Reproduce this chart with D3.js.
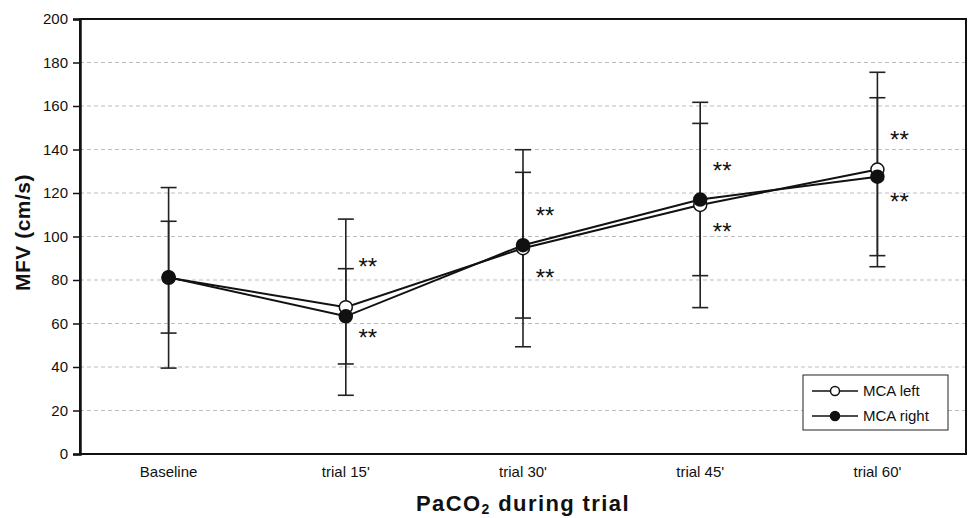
<!DOCTYPE html>
<html>
<head>
<meta charset="utf-8">
<script src="https://cdnjs.cloudflare.com/ajax/libs/d3/7.8.5/d3.min.js"></script>
<style>
  * { margin: 0; padding: 0; }
  body { background: #fff; }
  text { font-family: "Liberation Sans", Arial, sans-serif; fill: #111; }
</style>
</head>
<body>
<script>
// values
var categories = ["Baseline", "trial 15'", "trial 30'", "trial 45'", "trial 60'"];
var leftMean  = [81, 67.5, 94.6, 114.5, 130.8];
var leftSD    = [41.5, 40.5, 45.3, 47.2, 44.7];
var rightMean = [81.3, 63.3, 96, 117, 127.5];
var rightSD   = [25.7, 21.9, 33.5, 35, 36.3];
var yTicks = [0, 20, 40, 60, 80, 100, 120, 140, 160, 180, 200];
// significance marks (** above / below the points), value positions
var starCats  = ["trial 15'", "trial 30'", "trial 45'", "trial 60'"];
var starUpper = [89, 112.5, 132.9, 147.1];
var starLower = [56.5, 83.8, 104.8, 118.8];

var W = 970, H = 518;
var margin = {top: 19, right: 4, bottom: 64, left: 80};
var width = W - margin.left - margin.right,
    height = H - margin.top - margin.bottom;

var svg = d3.select("body").append("svg")
    .attr("width", W)
    .attr("height", H);

var g = svg.append("g")
    .attr("transform", "translate(" + margin.left + "," + margin.top + ")");

var x = d3.scaleBand().domain(categories).range([0, width]);
var cx = function(c) { return x(c) + x.bandwidth() / 2; };
var y = d3.scaleLinear().domain([0, 200]).range([height, 0]);

// gridlines
g.selectAll(".grid")
    .data(yTicks.filter(function(d) { return d > 0 && d < 200; }))
    .enter().append("line")
    .attr("x1", 0).attr("x2", width)
    .attr("y1", function(d) { return y(d); })
    .attr("y2", function(d) { return y(d); })
    .attr("stroke", "#bdbdbd")
    .attr("stroke-width", 1)
    .attr("stroke-dasharray", "4,3");

// frame
g.append("rect")
    .attr("width", width).attr("height", height)
    .attr("fill", "none")
    .attr("stroke", "#111")
    .attr("stroke-width", 2);

// y axis
var yAxis = g.append("g")
    .call(d3.axisLeft(y).tickValues(yTicks).tickSize(7).tickPadding(5));
yAxis.select(".domain").attr("stroke", "#111").attr("stroke-width", 2.5);
yAxis.selectAll(".tick line").attr("stroke", "#111").attr("stroke-width", 1.5);
yAxis.selectAll("text").style("font-size", "15px").attr("fill", "#111");

// x axis labels
var xAxis = g.append("g")
    .attr("transform", "translate(0," + height + ")")
    .call(d3.axisBottom(x).tickSize(0).tickPadding(12));
xAxis.select(".domain").remove();
xAxis.selectAll("text").style("font-size", "15px").attr("fill", "#111");

// axis titles
svg.append("text")
    .attr("transform", "translate(30," + (margin.top + height / 2 - 4) + ") rotate(-90)")
    .attr("text-anchor", "middle")
    .style("font-size", "21px")
    .style("font-weight", "bold")
    .style("letter-spacing", "0.5px")
    .text("MFV (cm/s)");

var xt = svg.append("text")
    .attr("x", margin.left + width / 2)
    .attr("y", 511)
    .attr("text-anchor", "middle")
    .style("font-size", "22px")
    .style("font-weight", "bold")
    .style("letter-spacing", "1.4px");
xt.append("tspan").text("PaCO");
xt.append("tspan").attr("dy", 3).style("font-size", "14px").text("2");
xt.append("tspan").attr("dy", -3).text(" during trial");

// series
var series = [
  {name: "MCA left", mean: leftMean, sd: leftSD, fill: "#fff"},
  {name: "MCA right", mean: rightMean, sd: rightSD, fill: "#111"}
];

var line = d3.line()
    .x(function(d) { return cx(d.c); })
    .y(function(d) { return y(d.v); });

series.forEach(function(s) {
  var pts = categories.map(function(c, i) { return {c: c, v: s.mean[i], sd: s.sd[i]}; });
  var eb = g.append("g").selectAll("g").data(pts).enter().append("g");
  eb.append("line")
      .attr("x1", function(d) { return cx(d.c); })
      .attr("x2", function(d) { return cx(d.c); })
      .attr("y1", function(d) { return y(d.v + d.sd); })
      .attr("y2", function(d) { return y(d.v - d.sd); })
      .attr("stroke", "#222").attr("stroke-width", 1.6);
  [1, -1].forEach(function(k) {
    eb.append("line")
        .attr("x1", function(d) { return cx(d.c) - 8; })
        .attr("x2", function(d) { return cx(d.c) + 8; })
        .attr("y1", function(d) { return y(d.v + k * d.sd); })
        .attr("y2", function(d) { return y(d.v + k * d.sd); })
        .attr("stroke", "#222").attr("stroke-width", 1.6);
  });
  s.pts = pts;
});

series.forEach(function(s) {
  g.append("path")
      .datum(s.pts)
      .attr("d", line)
      .attr("fill", "none")
      .attr("stroke", "#111")
      .attr("stroke-width", 2);
});

series.forEach(function(s) {
  g.selectAll(null).data(s.pts).enter().append("circle")
      .attr("cx", function(d) { return cx(d.c); })
      .attr("cy", function(d) { return y(d.v); })
      .attr("r", 6.5)
      .attr("fill", s.fill)
      .attr("stroke", "#111")
      .attr("stroke-width", 1.5);
});

// stars
[starUpper, starLower].forEach(function(arr) {
  g.selectAll(null).data(starCats).enter().append("text")
      .attr("x", function(c) { return cx(c) + 22; })
      .attr("y", function(c, i) { return y(arr[i]); })
      .attr("dy", "0.6em")
      .attr("text-anchor", "middle")
      .style("font-size", "24px")
      .text("**");
});

// legend
var lg = svg.append("g").attr("transform", "translate(803,375)");
lg.append("rect")
    .attr("width", 145).attr("height", 55)
    .attr("fill", "#fff").attr("stroke", "#222").attr("stroke-width", 1);
series.forEach(function(s, i) {
  var ly = 16 + i * 25;
  lg.append("line")
      .attr("x1", 9).attr("x2", 55)
      .attr("y1", ly).attr("y2", ly)
      .attr("stroke", "#111").attr("stroke-width", 1.5);
  lg.append("circle")
      .attr("cx", 32).attr("cy", ly).attr("r", 4.5)
      .attr("fill", s.fill).attr("stroke", "#111").attr("stroke-width", 1.5);
  lg.append("text")
      .attr("x", 60).attr("y", ly).attr("dy", "0.35em")
      .style("font-size", "15px")
      .text(s.name);
});
</script>
</body>
</html>
